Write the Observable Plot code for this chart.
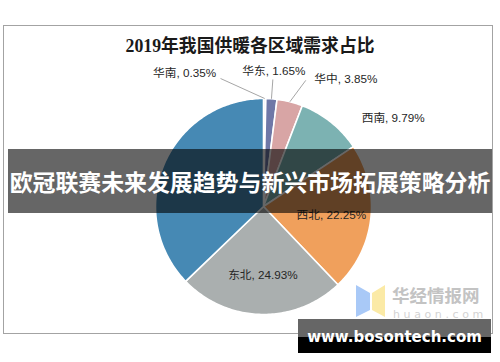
<!DOCTYPE html>
<html><head><meta charset="utf-8">
<script src="https://cdn.jsdelivr.net/npm/d3@7"></script>
<script src="https://cdn.jsdelivr.net/npm/@observablehq/plot@0.6"></script>
<style>
html,body{margin:0;padding:0;background:#fff;}
#wrap{position:relative;width:500px;height:362px;overflow:hidden;background:#fff;}
#chart svg{position:absolute;left:0;top:0;}
.frame{position:absolute;left:3px;top:25px;width:488px;height:307px;border:1px solid #a3a3a3;}
.title{position:absolute;left:0;width:500px;top:34px;text-align:center;font:bold 17.8px "Liberation Serif","Noto Sans CJK SC",serif;color:#1a1a1a;line-height:24px;}
.banner{position:absolute;left:8px;top:149px;width:484px;height:64px;background:rgba(0,0,0,0.6);color:#fff;text-align:center;font:bold 22.9px "Noto Sans CJK SC",sans-serif;line-height:64px;white-space:nowrap;}
.wm1{position:absolute;left:392px;top:285px;font:bold 17.5px "Noto Sans CJK SC",sans-serif;color:#c3c3c3;line-height:20px;}
.wm2{position:absolute;left:393px;top:308px;font:11px "DejaVu Sans",sans-serif;color:#d3d3d3;letter-spacing:3.6px;line-height:13px;}
.logo{position:absolute;left:0;top:0;}
.url{position:absolute;left:298px;top:319px;width:193px;height:34px;background:linear-gradient(#666 0,#666 18px,#000 18px,#000 100%);color:#fff;text-align:center;font:bold 15px "DejaVu Sans",sans-serif;line-height:36px;}
</style>
</head><body>
<div id="wrap">
  <div class="frame"></div>
  <div id="chart"></div>
  <div class="title">2019年我国供暖各区域需求占比</div>
  <svg class="logo" width="500" height="362"><polygon points="356,285 370,293 370,310 356,317" fill="#a9c9f7"/><polygon points="372,293 385,285 385,317 372,310" fill="#fbeaa6"/></svg>
  <div class="wm1">华经情报网</div>
  <div class="wm2">huaon.com</div>
  <div class="banner">欧冠联赛未来发展趋势与新兴市场拓展策略分析</div>
  <div class="url">www.bosontech.com</div>
</div>
<script>
// data
const regions = ["华南","华东","华中","西南","西北","东北","华北"];
const shares = [0.35, 1.65, 3.85, 9.79, 22.25, 24.93, 37.18];
// style
const colors = ["#eef2f6","#6f78a7","#d8a5a5","#7cb2b2","#f0a05c","#aaafaf","#4689b4"];
// layout (华北 label is hidden under the banner in the reference)
const cx = 263, cy = 206, R = 108;
const labelLayout = {
  "华南": {rf:1.3, dx:-80.5, dy:7.4, lead:[36,5]},
  "华东": {rf:1.3, dx:0, dy:5, lead:[-1,8]},
  "华中": {rf:1.3, dx:48, dy:9, lead:[-40,1]},
  "西南": {rf:1.3, dx:42, dy:21},
  "西北": {rf:0.65, dx:-2, dy:1},
  "东北": {rf:0.65, dx:1, dy:-1}
};

const total = d3.sum(shares);
let cum = 0;
const slices = regions.map((name, i) => {
  const a0 = cum / total * 2 * Math.PI;
  cum += shares[i];
  const a1 = cum / total * 2 * Math.PI;
  return {name, value: shares[i], a0, a1, mid: (a0 + a1) / 2};
});
const pts = [];
for (const s of slices) {
  pts.push({name: s.name, x: 0, y: 0});
  const n = Math.max(2, Math.ceil((s.a1 - s.a0) / (Math.PI / 180)));
  for (let k = 0; k <= n; k++) {
    const a = s.a0 + (s.a1 - s.a0) * k / n;
    pts.push({name: s.name, x: Math.sin(a), y: Math.cos(a)});
  }
}
const labels = slices.filter(s => labelLayout[s.name]).map(s => {
  const L = labelLayout[s.name];
  const x = Math.sin(s.mid) * L.rf + L.dx / R;
  const y = Math.cos(s.mid) * L.rf - L.dy / R;
  return {name: s.name, text: `${s.name}, ${s.value.toFixed(2)}%`, x, y,
    lead: L.lead ? {x1: x + L.lead[0] / R, y1: y - L.lead[1] / R, x2: Math.sin(s.mid), y2: Math.cos(s.mid)} : null};
});
const leads = labels.filter(d => d.lead).map(d => d.lead);

const chart = Plot.plot({
  width: 500, height: 362, margin: 0,
  style: {background: "transparent", overflow: "visible"},
  x: {domain: [-1, 1], range: [cx - R, cx + R], axis: null},
  y: {domain: [-1, 1], range: [cy + R, cy - R], axis: null},
  color: {domain: regions, range: colors},
  marks: [
    Plot.line(pts, {x: "x", y: "y", z: "name", fill: "name", stroke: "white", strokeWidth: 1.6, curve: "linear-closed"}),
    Plot.link(leads, {x1: "x1", y1: "y1", x2: "x2", y2: "y2", stroke: "#a6a6a6", strokeWidth: 1}),
    Plot.text(labels, {x: "x", y: "y", text: "text", fill: "#262626", fontSize: 11.7, fontFamily: "'Liberation Sans','Noto Sans CJK SC',sans-serif"})
  ]
});
document.getElementById("chart").appendChild(chart);
</script>
</body></html>
